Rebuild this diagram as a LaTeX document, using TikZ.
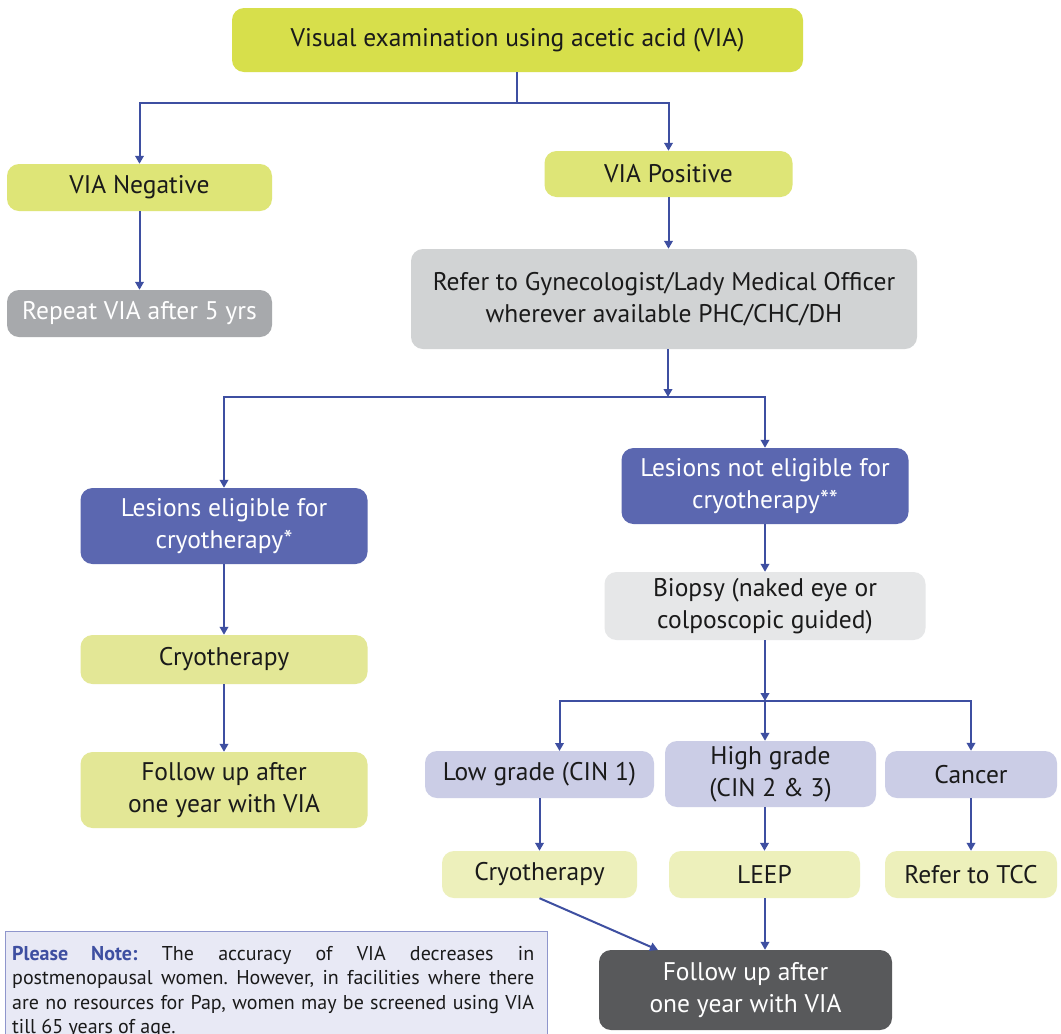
\documentclass[tikz,border=0pt]{standalone}
\usepackage{fontspec}
\setmainfont{PT Sans}
\usetikzlibrary{arrows.meta}
\frenchspacing
\definecolor{cTop}{HTML}{D7DF4B}
\definecolor{cPos}{HTML}{DEE577}
\definecolor{cRep}{HTML}{A7A9AC}
\definecolor{cRef}{HTML}{D1D3D4}
\definecolor{cLes}{HTML}{5B67B0}
\definecolor{cCryL}{HTML}{E3E796}
\definecolor{cLow}{HTML}{EDF0BB}
\definecolor{cBio}{HTML}{E6E7E8}
\definecolor{cGrd}{HTML}{CBCDE6}
\definecolor{cDark}{HTML}{58595B}
\definecolor{cLine}{HTML}{3E4FA1}
\definecolor{cNote}{HTML}{E8E9F5}
\definecolor{cNoteB}{HTML}{8F96CC}
\definecolor{cTxt}{HTML}{1A1A1A}
\tikzset{
  box/.style={rounded corners=12pt, inner sep=0pt, align=center, text=cTxt,
    font=\fontsize{25.5}{32}\selectfont},
  wtxt/.style={text=white},
  conn/.style={draw=cLine, line width=2pt},
  arr/.style={conn, -{Triangle[length=8pt,width=8.5pt]}},
}
\begin{document}
\begin{tikzpicture}[x=1pt,y=-1pt]
\useasboundingbox (0,0) rectangle (1061,1034);
\clip (0,0) rectangle (1061,1034);
\fill[white] (0,0) rectangle (1061,1034);

\node[box, fill=cTop, minimum width=571pt, minimum height=64pt] (top) at (517.5,40) {Visual examination using acetic acid (VIA)};
\node[box, fill=cPos, minimum width=265pt, minimum height=47pt] (neg) at (139.5,187.5) {VIA Negative};
\node[box, fill=cRep, wtxt, minimum width=265pt, minimum height=47pt] (rep) at (139.5,313.5) {Repeat VIA after 5 yrs};
\node[box, fill=cPos, minimum width=248pt, minimum height=46pt] (pos) at (668.5,174) {VIA Positive};
\node[box, fill=cRef, minimum width=506pt, minimum height=100pt] (refer) at (664,299) {Refer to Gynecologist/Lady Medical Officer\\wherever available PHC/CHC/DH};
\node[box, fill=cLes, wtxt, minimum width=287pt, minimum height=76pt] (elig) at (224,526) {Lesions eligible for\\cryotherapy*};
\node[box, fill=cLes, wtxt, minimum width=287pt, minimum height=76pt] (nelig) at (765,486) {Lesions not eligible for\\cryotherapy**};
\node[box, fill=cCryL, minimum width=287pt, minimum height=49pt] (cryoL) at (224,659.5) {Cryotherapy};
\node[box, fill=cCryL, minimum width=287pt, minimum height=76pt] (folL) at (224,790) {Follow up after\\one year with VIA};
\node[box, fill=cBio, minimum width=321pt, minimum height=68pt] (bio) at (765,606) {Biopsy (naked eye or\\colposcopic guided)};
\node[box, fill=cGrd, minimum width=229pt, minimum height=47pt] (low) at (539.5,774.5) {Low grade (CIN 1)};
\node[box, fill=cGrd, minimum width=211pt, minimum height=66pt] (high) at (770.5,774) {High grade\\(CIN 2 \& 3)};
\node[box, fill=cGrd, minimum width=172pt, minimum height=47pt] (canc) at (971,774.5) {Cancer};
\node[box, fill=cLow, minimum width=195pt, minimum height=47pt] (cryo2) at (539.5,874.5) {Cryotherapy};
\node[box, fill=cLow, minimum width=191pt, minimum height=47pt] (leep) at (764.5,874.5) {LEEP};
\node[box, fill=cLow, minimum width=172pt, minimum height=47pt] (tcc) at (971,874.5) {Refer to TCC};
\node[box, fill=cDark, wtxt, minimum width=293pt, minimum height=80pt] (folD) at (745.5,990) {Follow up after\\one year with VIA};

% note box
\node[draw=cNoteB, line width=0.8pt, fill=cNote, anchor=north west, minimum width=542pt, minimum height=140pt, inner sep=0pt] (notebox) at (5,931) {};
\node[anchor=north west, text width=522pt, align=justify, inner sep=0pt, text=cTxt,
  font=\fontsize{20}{24.3}\selectfont] (note) at (12,946)
  {\hyphenpenalty=10000\textcolor{cLine}{\textbf{Please Note:}} The accuracy of VIA decreases in\linebreak postmenopausal women. However, in facilities where there\linebreak are no resources for Pap, women may be screened using VIA\linebreak till 65 years of age.};

% coordinates
\coordinate (j1) at (517,103);
\coordinate (j2) at (668,397);
\coordinate (j3) at (765,701);
\coordinate (lowin) at (559.5,751);
\coordinate (fd) at (658,950);

% connectors
\draw[conn] (top.south -| j1) -- (j1);
\draw[arr] (j1) -| (neg.north);
\draw[arr] (j1) -| (pos.north);
\draw[arr] (neg) -- (rep);
\draw[arr] (pos) -- (refer.north -| pos);
\draw[arr] (refer.south -| j2) -- (j2);
\draw[arr] (j2) -| (elig.north);
\draw[arr] (j2) -| (nelig.north);
\draw[arr] (elig) -- (cryoL);
\draw[arr] (cryoL) -- (folL);
\draw[arr] (nelig) -- (bio);
\draw[arr] (bio) -- (j3);
\draw[arr] (j3) -| (lowin);
\draw[arr] (j3) -- (j3 |- high.north);
\draw[arr] (j3) -| (canc.north);
\draw[arr] (low) -- (cryo2);
\draw[arr] (high.south -| leep) -- (leep);
\draw[arr] (canc) -- (tcc);
\draw[arr] (cryo2.south) -- (fd);
\draw[arr] (leep.south -| j3) -- (folD.north -| j3);
\end{tikzpicture}
\end{document}
